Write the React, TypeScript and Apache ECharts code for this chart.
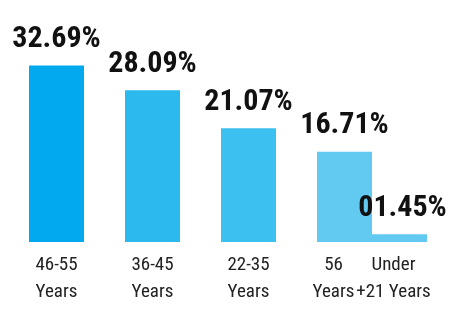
import React, { useEffect, useRef } from "react";
import * as echarts from "echarts";

const groups = ["46-55", "36-45", "22-35", "56+"];
const categoriesMain = ["46-55\nYears", "36-45\nYears", "22-35\nYears", "56\nYears"];
const valuesMain = [32.69, 28.09, 21.07, 16.71];
const labelsMain = ["32.69%", "28.09%", "21.07%", "16.71%"];
const categoriesSide = [null, null, null, "Under\n+21 Years"];
const valuesSide = [null, null, null, 1.45];
const labelsSide = [null, null, null, "01.45%"];
const colorsMain = ["#02a9ee", "#2bb9ee", "#3cc0f0", "#62c9f1"];
const colorSide = "#62c9f1";

const FONT = "'Roboto Condensed', 'Open Sans Condensed', 'DejaVu Sans Condensed', sans-serif";

export default function App() {
  const ref = useRef<HTMLDivElement>(null);
  useEffect(() => {
    if (!ref.current) return;
    const chart = echarts.init(ref.current, null, { renderer: "svg" });
    const valueLabel = (arr: (string | null)[], offset: number[]) => ({
      show: true,
      position: "top",
      distance: 14,
      offset,
      fontFamily: FONT,
      fontWeight: "bold",
      fontSize: 30,
      color: "#111",
      formatter: (p: any) => arr[p.dataIndex] ?? "",
    });
    const catLabel = (arr: (string | null)[], offset: number[]) => ({
      show: true,
      position: "bottom",
      distance: 8,
      offset,
      fontFamily: FONT,
      fontSize: 19,
      lineHeight: 27,
      color: "#222",
      formatter: (p: any) => arr[p.dataIndex] ?? "",
    });
    chart.setOption({
      animation: false,
      grid: { left: 36, right: 30, top: 26, bottom: 69 },
      xAxis: {
        type: "category",
        data: groups,
        axisLine: { show: false },
        axisTick: { show: false },
        axisLabel: { show: false },
      },
      yAxis: {
        type: "value",
        min: 0,
        max: 40,
        show: false,
        splitLine: { show: false },
      },
      series: [
        {
          type: "bar",
          stack: "main",
          barWidth: 55,
          barGap: "0%",
          clip: false,
          data: valuesMain.map((_, i) =>
            i === 3 ? { value: 0, label: { offset: [-11, 0] } } : 0
          ),
          label: catLabel(categoriesMain, [0, 0]),
          itemStyle: { color: "transparent" },
          silent: true,
        },
        {
          type: "bar",
          stack: "main",
          barWidth: 55,
          barGap: "0%",
          clip: false,
          data: valuesMain.map((v, i) => ({ value: v, itemStyle: { color: colorsMain[i] } })),
          label: valueLabel(labelsMain, [0, 0]),
        },
        {
          type: "bar",
          stack: "side",
          barWidth: 55,
          barGap: "0%",
          clip: false,
          data: valuesSide.map((v) => (v == null ? null : 0)),
          label: catLabel(categoriesSide, [-6, 0]),
          itemStyle: { color: "transparent" },
          silent: true,
        },
        {
          type: "bar",
          stack: "side",
          barWidth: 55,
          barGap: "0%",
          clip: false,
          data: valuesSide,
          itemStyle: { color: colorSide },
          label: valueLabel(labelsSide, [3, 0]),
        },
      ],
    });
    return () => chart.dispose();
  }, []);
  return (
    <div
      ref={ref}
      style={{ position: "fixed", left: 0, top: 0, width: 450, height: 311 }}
    />
  );
}
